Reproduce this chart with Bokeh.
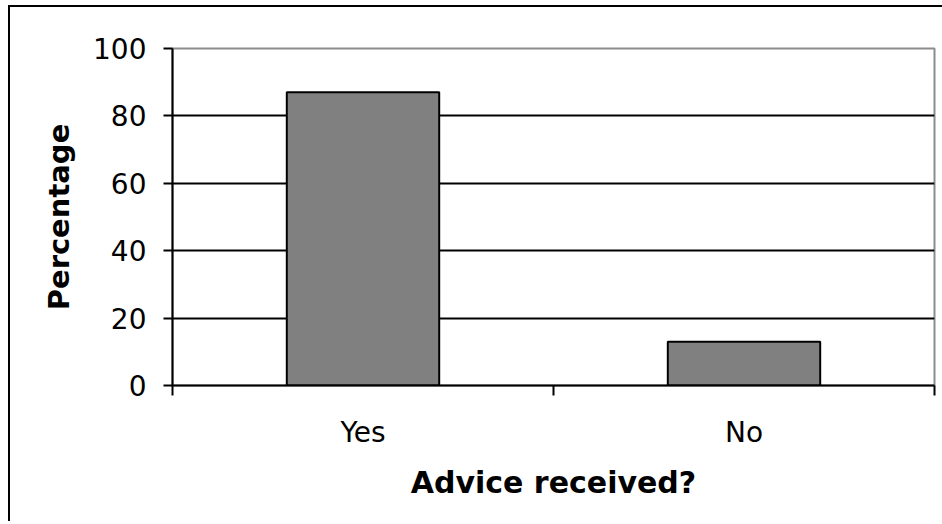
from bokeh.plotting import figure
from bokeh.models import Range1d, FixedTicker
from bokeh.embed import file_html
from bokeh.resources import INLINE

categories = ["Yes", "No"]
percentages = [87, 13]
y_ticks = [0, 20, 40, 60, 80, 100]

x_centers = [i + 0.5 for i in range(len(categories))]
boundaries = list(range(len(categories) + 1))

FONT = "DejaVu Sans"

p = figure(
    output_backend="svg",
    toolbar_location=None,
    frame_width=762,
    frame_height=337,
    min_border_left=162,
    min_border_top=41,
    min_border_right=8,
    min_border_bottom=136,
    x_range=Range1d(0, len(categories)),
    y_range=Range1d(0, 100),
    background_fill_color="white",
    border_fill_color="white",
)
p.styles = {"border-top": "2px solid black", "border-left": "2px solid black",
            "margin-left": "8px", "margin-top": "5px"}

p.vbar(x=x_centers, top=percentages, width=0.4, bottom=0,
       fill_color="#808080", line_color="black", line_width=2)

p.outline_line_color = "#8c8c8c"
p.outline_line_width = 2

# grid
p.xgrid.visible = False
p.ygrid.ticker = FixedTicker(ticks=y_ticks[1:-1])
p.ygrid.grid_line_color = "black"
p.ygrid.grid_line_width = 2

# y axis
ya = p.yaxis[0]
ya.ticker = FixedTicker(ticks=y_ticks)
ya.axis_line_color = "black"
ya.axis_line_width = 2
ya.major_tick_line_color = "black"
ya.major_tick_line_width = 2
ya.major_tick_out = 9
ya.major_tick_in = 0
ya.minor_tick_line_color = None
ya.major_label_text_font = FONT
ya.major_label_text_font_size = "28px"
ya.major_label_text_color = "black"
ya.major_label_standoff = 17
ya.axis_label = "Percentage"
ya.axis_label_text_font = FONT
ya.axis_label_text_font_size = "29px"
ya.axis_label_text_font_style = "bold"
ya.axis_label_text_color = "black"
ya.axis_label_standoff = 14

# x axis
xa = p.xaxis[0]
xa.ticker = FixedTicker(ticks=x_centers, minor_ticks=boundaries)
xa.major_label_overrides = {c: lab for c, lab in zip(x_centers, categories)}
xa.axis_line_color = "black"
xa.axis_line_width = 2
xa.major_tick_line_color = None
xa.major_tick_out = 10
xa.major_tick_in = 0
xa.minor_tick_line_color = "black"
xa.minor_tick_line_width = 2
xa.minor_tick_out = 10
xa.minor_tick_in = 0
xa.major_label_text_font = FONT
xa.major_label_text_font_size = "28px"
xa.major_label_text_color = "black"
xa.major_label_standoff = 20
xa.axis_label = "Advice received?"
xa.axis_label_text_font = FONT
xa.axis_label_text_font_size = "30px"
xa.axis_label_text_font_style = "bold"
xa.axis_label_text_color = "black"
xa.axis_label_standoff = 13

open("out.html", "w").write(file_html(p, INLINE))
